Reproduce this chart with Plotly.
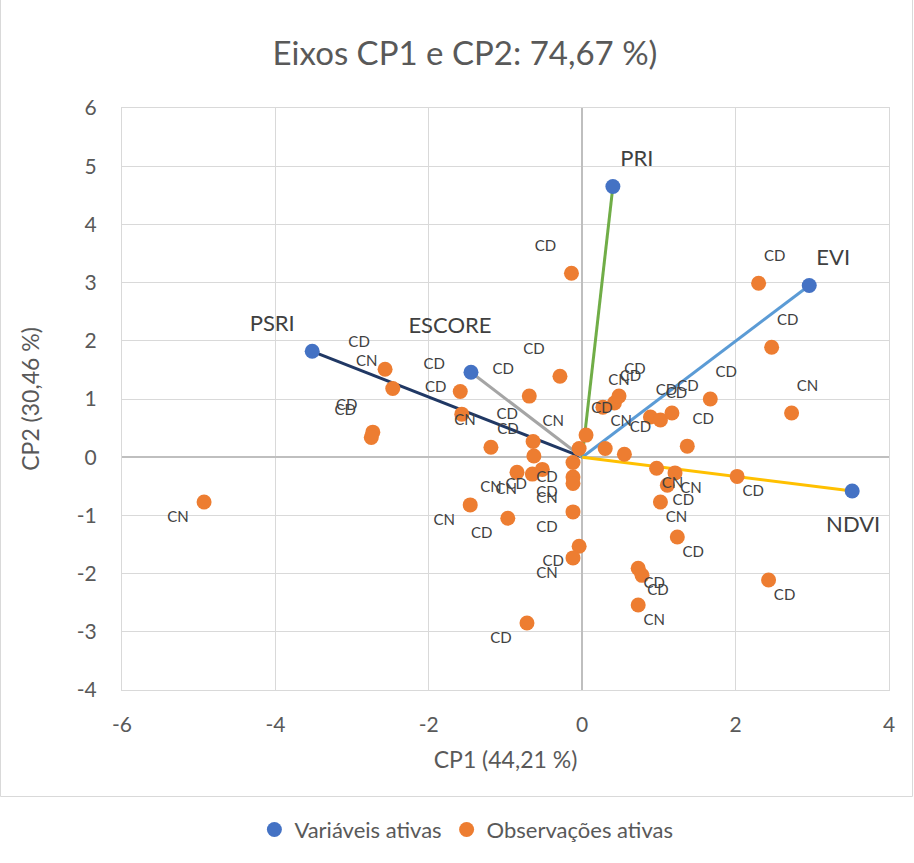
import plotly.graph_objects as go

# Active variables (loadings on CP1 / CP2)
var_names = ["PSRI", "ESCORE", "PRI", "EVI", "NDVI"]
var_x = [-3.52, -1.45, 0.40, 2.96, 3.52]
var_y = [1.82, 1.46, 4.65, 2.95, -0.58]
var_colors = ["#203864", "#A5A5A5", "#70AD47", "#5B9BD5", "#FFC000"]

# Active observations (scores on CP1 / CP2) and their group labels
obs_x = [-4.93, -2.57, -2.47, -2.73, -2.75, -1.59, -1.57, -1.19, -1.46, -0.97,
         -0.69, -0.29, -0.14, -0.64, -0.63, -0.85, -0.65, -0.52, -0.12, -0.12,
         -0.12, -0.12, -0.04, -0.12, -0.72, -0.04, 0.05, 0.30, 0.27, 0.42,
         0.48, 0.55, 0.89, 1.02, 1.17, 1.37, 1.67, 0.97, 1.21, 1.11,
         1.02, 1.24, 0.73, 0.78, 0.73, 2.02, 2.43, 2.30, 2.47, 2.73]
obs_y = [-0.77, 1.51, 1.18, 0.43, 0.34, 1.13, 0.74, 0.17, -0.82, -1.05,
         1.05, 1.39, 3.16, 0.27, 0.02, -0.26, -0.29, -0.21, -0.09, -0.34,
         -0.45, -0.94, -1.53, -1.73, -2.85, 0.15, 0.38, 0.15, 0.86, 0.93,
         1.05, 0.05, 0.69, 0.64, 0.76, 0.19, 1.00, -0.19, -0.27, -0.48,
         -0.77, -1.37, -1.91, -2.03, -2.54, -0.33, -2.11, 2.99, 1.89, 0.76]
obs_labels = ["CN", "CD", "CN", "CD", "CD", "CD", "CD", "CN", "CN", "CD",
              "CD", "CD", "CD", "CD", "CD", "CN", "CN", "CD", "CD", "CD",
              "CN", "CD", "CD", "CN", "CD", "CN", "CD", "CN", "CN", "CD",
              "CD", "CD", "CD", "CD", "CD", "CD", "CD", "CN", "CN", "CD",
              "CN", "CD", "CD", "CD", "CN", "CD", "CD", "CD", "CD", "CN"]

title_text = "Eixos CP1 e CP2: 74,67 %)"
x_title = "CP1 (44,21 %)"
y_title = "CP2 (30,46 %)"
x_ticks = [-6, -4, -2, 0, 2, 4]
y_ticks = [-4, -3, -2, -1, 0, 1, 2, 3, 4, 5, 6]
x_range = [-6, 4]
y_range = [-4, 6]

W, H = 914, 863
M_L, M_R, M_T, M_B = 122, 25, 108, 173
plot_w = W - M_L - M_R
plot_h = H - M_T - M_B
px_x = plot_w / (x_range[1] - x_range[0])
px_y = plot_h / (y_range[1] - y_range[0])

FONT = "Lato, 'Open Sans', sans-serif"
TXT = "#404040"
AX = "#595959"

fig = go.Figure()

# Loading vectors from the origin
for name, vx, vy, col in zip(var_names, var_x, var_y, var_colors):
    fig.add_trace(go.Scatter(x=[0, vx], y=[0, vy], mode="lines",
                             line=dict(color=col, width=3),
                             showlegend=False, hoverinfo="skip"))

fig.add_trace(go.Scatter(x=var_x, y=var_y, mode="markers", name="Variáveis ativas",
                         marker=dict(color="#4472C4", size=15)))
fig.add_trace(go.Scatter(x=obs_x, y=obs_y, mode="markers", name="Observações ativas",
                         marker=dict(color="#ED7D31", size=15)))

# Observation labels sit diagonally outward from each point
lab_x, lab_y = [], []
for x, y in zip(obs_x, obs_y):
    dx = 16 if x >= 0 else -26
    dy = -26 if y >= 0 else 16
    lab_x.append(x + dx / px_x)
    lab_y.append(y - dy / px_y)
fig.add_trace(go.Scatter(x=lab_x, y=lab_y, mode="text", text=obs_labels,
                         textposition="middle center",
                         textfont=dict(family=FONT, size=15, color=TXT),
                         showlegend=False, hoverinfo="skip"))

# Variable labels
var_off = {"PSRI": (-40, -26), "ESCORE": (-21, -45), "PRI": (24, -26),
           "EVI": (24, -26), "NDVI": (1, 36)}
vl_x = [x + var_off[n][0] / px_x for n, x in zip(var_names, var_x)]
vl_y = [y - var_off[n][1] / px_y for n, y in zip(var_names, var_y)]
fig.add_trace(go.Scatter(x=vl_x, y=vl_y, mode="text", text=var_names,
                         textposition="middle center",
                         textfont=dict(family=FONT, size=22, color=TXT),
                         showlegend=False, hoverinfo="skip"))


def tick_text(vals):
    return [str(v) for v in vals]


axis_common = dict(showgrid=True, gridcolor="#D9D9D9", gridwidth=1,
                   zeroline=True, zerolinecolor="#BFBFBF", zerolinewidth=2,
                   showline=True, linecolor="#D9D9D9", linewidth=1, mirror=True,
                   ticks="", tickfont=dict(family=FONT, size=21, color=AX))

fig.update_layout(
    width=W, height=H,
    margin=dict(l=M_L, r=M_R, t=M_T, b=M_B),
    paper_bgcolor="white", plot_bgcolor="white",
    font=dict(family=FONT, color=AX),
    title=dict(text=title_text, x=465 / W, xanchor="center",
               y=1 - 53 / H, yanchor="middle",
               font=dict(family=FONT, size=33, color=AX)),
    xaxis=dict(range=x_range, tickvals=x_ticks, ticktext=tick_text(x_ticks),
               title=dict(text=x_title, font=dict(family=FONT, size=23, color=AX), standoff=16),
               ticklabelstandoff=16, **axis_common),
    yaxis=dict(range=y_range, tickvals=y_ticks, ticktext=tick_text(y_ticks),
               title=dict(text=y_title, font=dict(family=FONT, size=23, color=AX), standoff=30),
               ticklabelstandoff=20, **axis_common),
    legend=dict(orientation="h", x=0.449, xanchor="center", y=-0.24, yanchor="middle",
                font=dict(family=FONT, size=22, color=AX)),
    shapes=[dict(type="rect", xref="paper", yref="paper",
                 x0=(0.5 - M_L) / plot_w, x1=(W - 1.5 - M_L) / plot_w,
                 y0=(plot_h + M_B - (H - 1.5)) / plot_h, y1=(plot_h + M_B - 0.5) / plot_h,
                 line=dict(color="#D9D9D9", width=1), layer="below")],
)

fig.write_html("out.html")
